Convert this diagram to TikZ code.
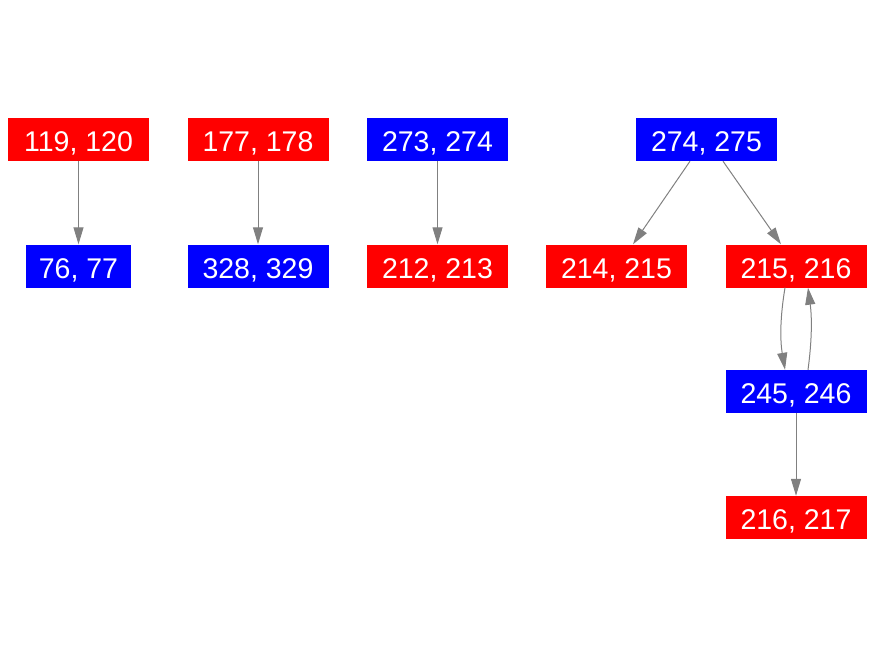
\documentclass[tikz,border=0pt]{standalone}
\usepackage{fontspec}
\setmainfont{Liberation Sans}
\usetikzlibrary{arrows.meta}
\definecolor{edgegray}{HTML}{808080}
\tikzset{
  box/.style={inner sep=0pt, minimum width=141pt, minimum height=43pt, text=white,
    font=\fontsize{28.5}{28.5}\selectfont, text height=24pt, text depth=0pt},
  redbox/.style={box, fill={rgb,255:red,255;green,0;blue,0}},
  bluebox/.style={box, fill={rgb,255:red,0;green,0;blue,255}},
  edge/.style={draw=edgegray, line width=1pt, -{Triangle[length=17pt,width=10pt,fill=edgegray]}}
}
\begin{document}
\begin{tikzpicture}[x=1pt,y=-1pt]
\useasboundingbox (0,0) rectangle (875,656);
\node[redbox] (a1) at (78.5,139.5) {119, 120};
\node[bluebox, minimum width=105pt] (a2) at (78.5,266) {76, 77};
\node[redbox] (b1) at (258,139.5) {177, 178};
\node[bluebox] (b2) at (258,266) {328, 329};
\node[bluebox] (c1) at (437.5,139.5) {273, 274};
\node[redbox] (c2) at (437.5,266) {212, 213};
\node[bluebox] (d1) at (706.5,139.5) {274, 275};
\node[redbox] (d2) at (616.5,266) {214, 215};
\node[redbox] (d3) at (796,266) {215, 216};
\node[bluebox] (d4) at (796,391.5) {245, 246};
\node[redbox] (d5) at (796,517.5) {216, 217};
\coordinate (d1l) at ([xshift=-16.5pt]d1.south);
\coordinate (d1r) at ([xshift=16.5pt]d1.south);
\coordinate (d2t) at ([xshift=16.5pt]d2.north);
\coordinate (d3t) at ([xshift=-15pt]d3.north);
\coordinate (d3bl) at ([xshift=-11pt]d3.south);
\coordinate (d3br) at ([xshift=12pt]d3.south);
\coordinate (d4tl) at ([xshift=-11pt]d4.north);
\coordinate (d4tr) at ([xshift=12pt]d4.north);
\draw[edge] (a1) -- (a2);
\draw[edge] (b1) -- (b2);
\draw[edge] (c1) -- (c2);
\draw[edge] (d1l) -- (d2t);
\draw[edge] (d1r) -- (d3t);
\draw[edge] (d3bl) .. controls ([xshift=-5pt,yshift=-30pt]d3bl) and ([xshift=-5pt,yshift=30pt]d4tl) .. (d4tl);
\draw[edge] (d4tr) .. controls ([xshift=4pt,yshift=30pt]d4tr) and ([xshift=4pt,yshift=-30pt]d3br) .. (d3br);
\draw[edge] (d4) -- (d5);
\end{tikzpicture}
\end{document}
